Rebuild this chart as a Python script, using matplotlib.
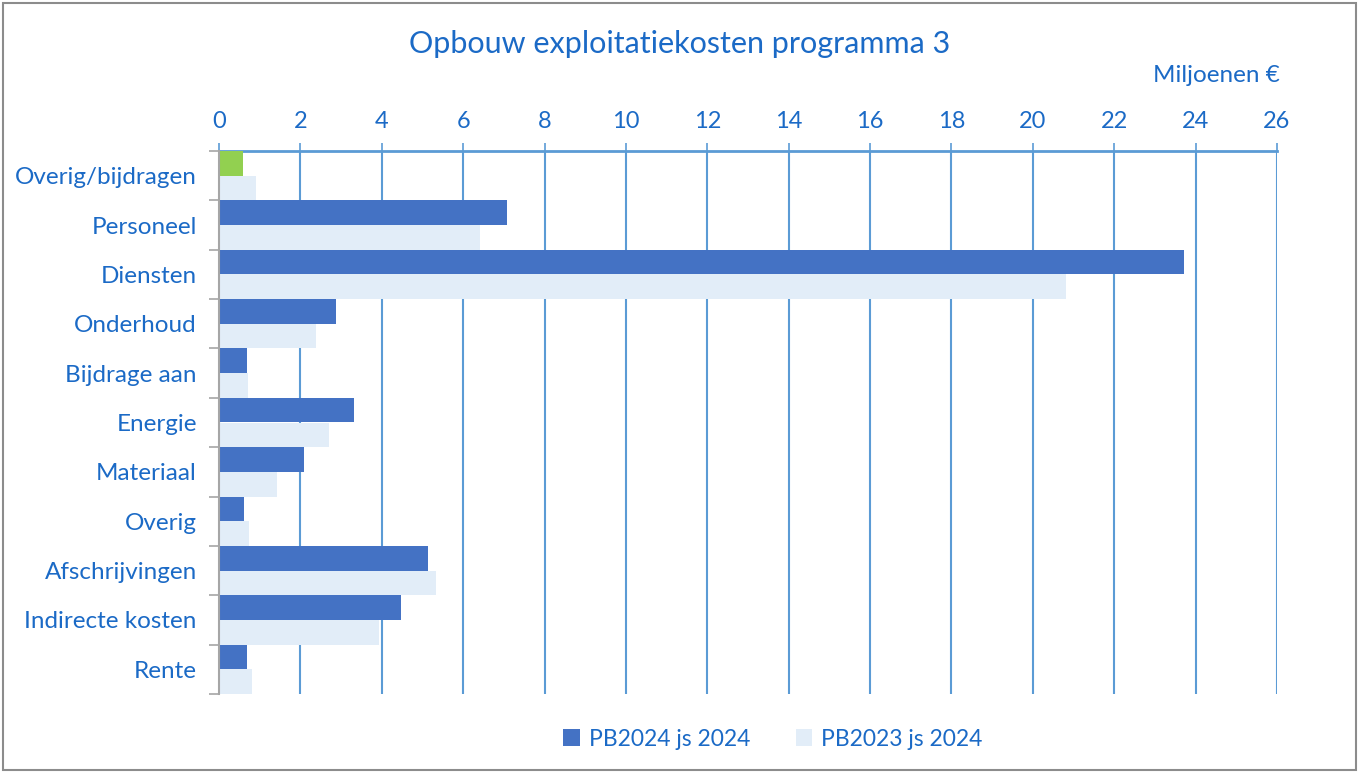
import matplotlib
matplotlib.use("Agg")
import matplotlib.pyplot as plt
from matplotlib.patches import Rectangle, Patch
import numpy as np

categories = ["Overig/bijdragen", "Personeel", "Diensten", "Onderhoud", "Bijdrage aan",
              "Energie", "Materiaal", "Overig", "Afschrijvingen", "Indirecte kosten", "Rente"]
pb2024 = [0.59, 7.08, 23.72, 2.88, 0.69, 3.32, 2.09, 0.61, 5.14, 4.47, 0.69]
pb2023 = [0.91, 6.41, 20.82, 2.38, 0.71, 2.70, 1.43, 0.74, 5.33, 3.93, 0.81]
series_names = ["PB2024 js 2024", "PB2023 js 2024"]
xticks = list(range(0, 27, 2))

DARK = "#4472C4"
LIGHT = "#E2EDF8"
GREEN = "#92D050"
TEXT = "#1B6AC6"
GRID = "#5B9BD5"

plt.rcParams['font.family'] = ['Lato', 'DejaVu Sans']

fig = plt.figure(figsize=(13.59, 7.72), dpi=100)
ax = fig.add_axes([219/1359, 1-694/772, (1277-219)/1359, (694-151)/772])

n = len(categories)
y = np.arange(n)
h = 0.5
colors_dark = [GREEN if i == 0 else DARK for i in range(n)]
ax.barh(y - h/2, pb2024, height=h, color=colors_dark, zorder=3)
ax.barh(y + h/2, pb2023, height=h, color=LIGHT, zorder=3)

ax.set_ylim(n - 0.5, -0.5)
ax.set_xlim(0, 26)
ax.xaxis.tick_top()
ax.set_xticks(xticks)
ax.set_xticklabels([str(t) for t in xticks], fontsize=17, color=TEXT)
ax.tick_params(axis='x', which='major', length=6, width=1.2, color=GRID, pad=8)
ax.set_yticks(np.arange(n + 1) - 0.5, minor=True)
ax.set_yticks(y)
ax.set_yticklabels(categories, fontsize=17.5, color=TEXT)
ax.tick_params(axis='y', which='major', length=0, pad=16)
ax.tick_params(axis='y', which='minor', length=7, width=1.2, color="#A6A6A6")
ax.grid(axis='x', color=GRID, linewidth=1.5, zorder=1)
ax.set_axisbelow(True)
for s in ['right', 'bottom']:
    ax.spines[s].set_visible(False)
ax.spines['top'].set_color(GRID)
ax.spines['top'].set_linewidth(2)
ax.spines['left'].set_color("#A6A6A6")
ax.spines['left'].set_linewidth(1.5)
ax.spines['left'].set_zorder(4)

fig.text(680/1359, 1-44/772, "Opbouw exploitatiekosten programma 3", ha='center', va='center',
         fontsize=22, color=TEXT)
fig.text(1280/1359, 1-76/772, "Miljoenen €", ha='right', va='center', fontsize=17.5, color=TEXT)

handles = [Patch(facecolor=DARK), Patch(facecolor=LIGHT)]
fig.legend(handles, series_names, loc='center', bbox_to_anchor=(773/1359, 1-739/772),
           ncol=2, frameon=False, fontsize=16.5, labelcolor=TEXT, handlelength=0.7,
           handleheight=0.7, handletextpad=0.4, columnspacing=2.0)

fig.patches.append(Rectangle((0.002, 0.002), 0.996, 0.994, transform=fig.transFigure,
                             fill=False, edgecolor="#8C8C8C", linewidth=1.5))

fig.savefig("out.png", dpi=100, facecolor="white")
